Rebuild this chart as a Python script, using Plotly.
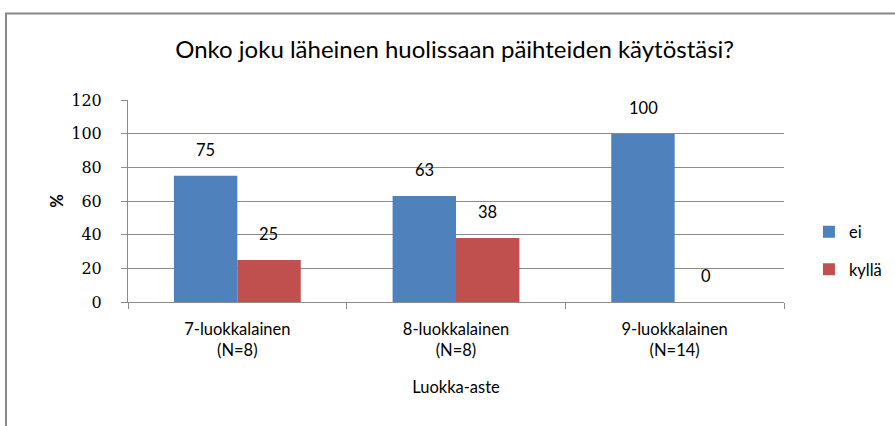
import plotly.graph_objects as go

categories = ["7-luokkalainen<br>(N=8)", "8-luokkalainen<br>(N=8)", "9-luokkalainen<br>(N=14)"]
ei_values = [75, 63, 100]
kylla_values = [25, 38, 0]
series_names = ["ei", "kyllä"]
y_ticks = [0, 20, 40, 60, 80, 100, 120]

BLUE = "#4F81BD"
RED = "#C0504D"
GRID = "#8C8C8C"
FONT = "Lato, 'Open Sans', sans-serif"
SERIF = "'DejaVu Serif', serif"

fig = go.Figure()
fig.add_trace(go.Bar(x=categories, y=ei_values, name=series_names[0], marker_color=BLUE,
                     marker_line_width=0, legendgroup="a"))
fig.add_trace(go.Bar(x=categories, y=kylla_values, name=series_names[1], marker_color=RED,
                     marker_line_width=0, legendgroup="b"))

annotations = []
for vals, shift in ((ei_values, -31.5), (kylla_values, 31.5)):
    for c, v in zip(categories, vals):
        annotations.append(dict(x=c, y=v, xref="x", yref="y", text=str(v), showarrow=False,
                                xshift=shift, yshift=26, font=dict(size=16.5, color="#000", family=FONT)))

fig.update_layout(
    width=895, height=426,
    margin=dict(l=128, r=111, t=100, b=124, autoexpand=False),
    paper_bgcolor="white", plot_bgcolor="white",
    barmode="group", bargap=0.42, bargroupgap=0,
    font=dict(family=FONT, size=16, color="#000"),
    title=dict(text="Onko joku läheinen huolissaan päihteiden käytöstäsi?", x=0.508, xanchor="center",
               y=1 - 50 / 426, yanchor="middle", font=dict(size=24, family=FONT, color="#000")),
    showlegend=True,
    legend=dict(x=1.038, y=0.255, xanchor="left", yanchor="middle", traceorder="grouped",
                tracegroupgap=13, font=dict(size=16.5, family=FONT), itemwidth=30,
                bgcolor="rgba(0,0,0,0)"),
    annotations=annotations,
    shapes=[dict(type="rect", xref="paper", yref="paper",
                 x0=(6 - 128) / 656, x1=1.5, y0=-1, y1=(301.5 - 13) / 202,
                 line=dict(color="#888888", width=2), fillcolor="rgba(0,0,0,0)", layer="below")],
)
fig.update_xaxes(showline=True, linecolor=GRID, linewidth=1, tickson="boundaries", ticks="outside",
                 ticklen=6, tickcolor=GRID, showgrid=False, ticklabelstandoff=12,
                 tickfont=dict(size=16.5, family=FONT),
                 title=dict(text="Luokka-aste", font=dict(size=16.5, family=FONT), standoff=22))
fig.update_yaxes(range=[0, 120], tickvals=y_ticks, showline=True, linecolor=GRID, linewidth=1,
                 showgrid=True, gridcolor=GRID, gridwidth=1, ticks="outside", ticklen=6, tickcolor=GRID,
                 tickfont=dict(size=16, family=SERIF), ticklabelstandoff=16, zeroline=False,
                 title=dict(text="<b>%</b>", font=dict(size=16.5, family=FONT), standoff=3))

fig.write_html("out.html", config={"displayModeBar": False},
               post_script="document.body.style.margin='0';document.body.style.overflow='hidden';")
